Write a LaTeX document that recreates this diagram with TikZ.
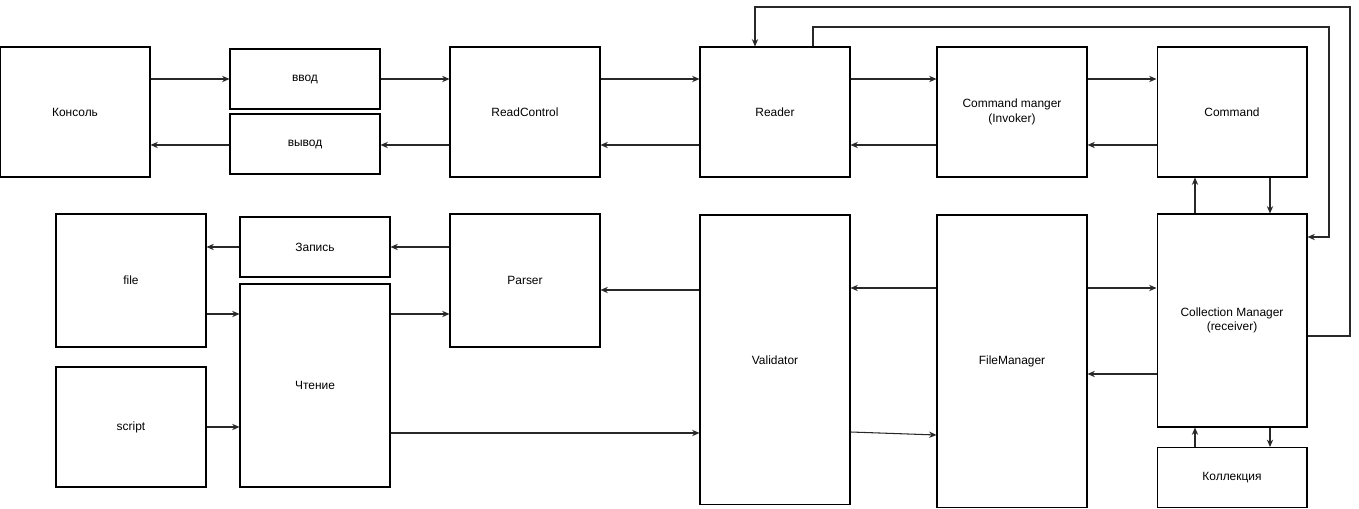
\documentclass[tikz,border=0pt]{standalone}
\usepackage{fontspec}
\setmainfont{Liberation Sans}
\usepackage{tikz}
\usetikzlibrary{arrows.meta, calc}
\definecolor{lnGrey}{RGB}{40,40,40}

\begin{document}
\begin{tikzpicture}[x=0.02cm, y=-0.02cm,
    font=\fontsize{6.8}{8.2}\selectfont,
    box/.style={draw=black, line width=0.6pt, fill=white, inner sep=1pt,
      align=center, minimum width=3cm},
    link/.style={-{Stealth[length=4.2pt,width=3.6pt]}, draw=lnGrey, line width=0.6pt}]
  \useasboundingbox (0,0) rectangle (1359,509);
  % top row
  \node[box, minimum height=2.6cm] (console) at (75,112) {Консоль};
  \node[box, minimum height=1.2cm] (vvod) at (305,79) {ввод};
  \node[box, minimum height=1.2cm] (vyvod) at (305,144) {вывод};
  \node[box, minimum height=2.6cm] (readctl) at (525,112) {ReadControl};
  \node[box, minimum height=2.6cm] (reader) at (775,112) {Reader};
  \node[box, minimum height=2.6cm] (invoker) at (1012,112) {Command manger\\(Invoker)};
  \node[box, minimum height=2.6cm] (command) at (1232,112) {Command};
  % bottom row
  \node[box, minimum height=2.66cm] (file) at (131,280.5) {file};
  \node[box, minimum height=2.4cm] (script) at (131,427) {script};
  \node[box, minimum height=1.2cm] (zapis) at (315,247) {Запись};
  \node[box, minimum height=4.06cm] (chtenie) at (315,385.5) {Чтение};
  \node[box, minimum height=2.66cm] (parser) at (525,280.5) {Parser};
  \node[box, minimum height=5.8cm] (validator) at (775,360) {Validator};
  \node[box, minimum height=5.86cm] (filemgr) at (1012,361.5) {FileManager};
  \node[box, minimum height=4.26cm] (collmgr) at (1232,320.5) {Collection Manager\\(receiver)};
  \node[box, minimum height=1.2cm] (kollekcia) at (1232,477.5) {Коллекция};

  % forward chain
  \draw[link] (console.east |- vvod) -- (vvod.west);
  \draw[link] (vvod.east) -- (readctl.west |- vvod);
  \draw[link] (readctl.east |- vvod) -- (reader.west |- vvod);
  \draw[link] (reader.east |- vvod) -- (invoker.west |- vvod);
  \draw[link] (invoker.east |- vvod) -- (command.west |- vvod);
  % backward chain
  \draw[link] (command.west |- 0,145) -- (invoker.east |- 0,145);
  \draw[link] (invoker.west |- 0,145) -- (reader.east |- 0,145);
  \draw[link] (reader.west |- 0,145) -- (readctl.east |- 0,145);
  \draw[link] (readctl.west |- 0,145) -- (vyvod.east |- 0,145);
  \draw[link] (vyvod.west |- 0,145) -- (console.east |- 0,145);
  % command <-> collection manager <-> collection
  \draw[link] (command.south -| 1270,0) -- (collmgr.north -| 1270,0);
  \draw[link] (collmgr.north -| 1195,0) -- (command.south -| 1195,0);
  \draw[link] (collmgr.south -| 1270,0) -- (kollekcia.north -| 1270,0);
  \draw[link] (kollekcia.north -| 1195,0) -- (collmgr.south -| 1195,0);
  % loops over the top
  \draw[link] (reader.north -| 813,0) |- (1329,27) |- (collmgr.east |- 0,237);
  \draw[link] (collmgr.east |- 0,336) -| (1350,7) -| (reader.north -| 755,0);
  % file side
  \draw[link] (zapis.west) -- (file.east |- zapis);
  \draw[link] (parser.west |- zapis) -- (zapis.east);
  \draw[link] (file.east |- 0,314) -- (chtenie.west |- 0,314);
  \draw[link] (script.east) -- (chtenie.west |- script);
  \draw[link] (chtenie.east |- 0,314) -- (parser.west |- 0,314);
  \draw[link] (chtenie.east |- 0,433) -- (validator.west |- 0,433);
  \draw[link] (validator.west |- 0,290) -- (parser.east |- 0,290);
  \draw[link] (filemgr.west |- 0,288) -- (validator.east |- 0,288);
  \draw[link] (validator.east |- 0,432) -- (filemgr.west |- 0,435);
  \draw[link] (filemgr.east |- 0,288) -- (collmgr.west |- 0,288);
  \draw[link] (collmgr.west |- 0,374) -- (filemgr.east |- 0,374);
\end{tikzpicture}
\end{document}
